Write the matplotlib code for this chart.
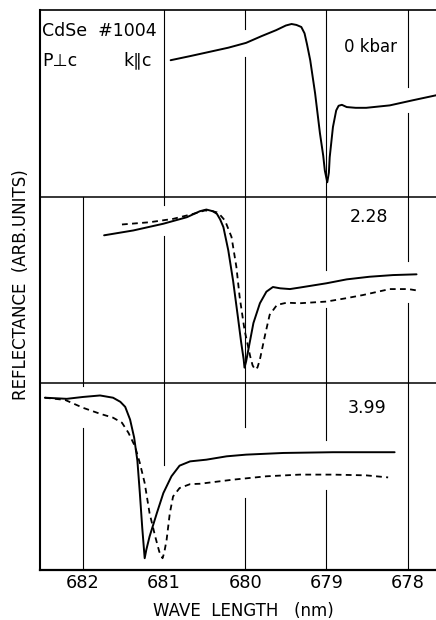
import numpy as np
import matplotlib
matplotlib.use("Agg")
import matplotlib.pyplot as plt

# reflectance spectra of CdSe #1004, one panel per pressure (arb. units, 0-1 inside each panel)
pressures = ["0 kbar", "2.28", "3.99"]

wl_0_solid = [680.92, 680.68, 680.46, 680.21, 679.99, 679.80, 679.62, 679.50, 679.43,
              679.37, 679.31, 679.27, 679.24, 679.20, 679.14, 679.08, 679.04, 679.02,
              678.99, 678.97, 678.96, 678.92, 678.88, 678.85, 678.81, 678.75, 678.64,
              678.51, 678.22, 677.94, 677.65, 677.55]
r_0_solid = [0.731, 0.753, 0.774, 0.798, 0.824, 0.860, 0.892, 0.917, 0.925,
             0.920, 0.909, 0.875, 0.817, 0.731, 0.554, 0.339, 0.220, 0.140,
             0.077, 0.129, 0.211, 0.373, 0.462, 0.487, 0.492, 0.480, 0.476,
             0.476, 0.489, 0.516, 0.543, 0.556]

wl_228_solid = [681.74, 681.38, 681.01, 680.72, 680.56, 680.48, 680.40, 680.35, 680.31,
                680.27, 680.21, 680.15, 680.09, 680.05, 680.02, 680.01, 679.99, 679.96,
                679.90, 679.82, 679.74, 679.66, 679.57, 679.45, 679.33, 679.00, 678.75,
                678.47, 678.18, 677.89]
r_228_solid = [0.793, 0.819, 0.855, 0.890, 0.922, 0.931, 0.922, 0.908, 0.878,
               0.837, 0.713, 0.548, 0.351, 0.216, 0.128, 0.084, 0.117, 0.186,
               0.323, 0.429, 0.491, 0.516, 0.509, 0.505, 0.513, 0.536, 0.557,
               0.571, 0.580, 0.584]

wl_228_dash = [681.52, 681.18, 680.89, 680.64, 680.50, 680.42, 680.35, 680.31, 680.25,
               680.17, 680.11, 680.07, 680.01, 679.94, 679.91, 679.88, 679.85, 679.82,
               679.76, 679.70, 679.61, 679.49, 679.33, 679.00, 678.77, 678.55, 678.22,
               677.99, 677.85]
r_228_dash = [0.851, 0.863, 0.881, 0.908, 0.926, 0.924, 0.916, 0.902, 0.872,
              0.784, 0.624, 0.464, 0.287, 0.145, 0.096, 0.074, 0.085, 0.128,
              0.252, 0.367, 0.420, 0.432, 0.429, 0.438, 0.455, 0.473, 0.505,
              0.505, 0.495]

wl_399_solid = [682.47, 682.20, 682.00, 681.79, 681.63, 681.54, 681.48, 681.42, 681.37,
                681.33, 681.30, 681.27, 681.24, 681.22, 681.18, 681.09, 681.01, 680.91,
                680.81, 680.68, 680.48, 680.23, 679.99, 679.53, 678.92, 678.16]
r_399_solid = [0.923, 0.917, 0.927, 0.935, 0.923, 0.901, 0.874, 0.806, 0.710,
               0.586, 0.414, 0.226, 0.063, 0.108, 0.179, 0.305, 0.412, 0.502,
               0.559, 0.582, 0.591, 0.609, 0.618, 0.627, 0.631, 0.631]

wl_399_dash = [682.47, 682.22, 682.00, 681.79, 681.63, 681.52, 681.44, 681.36, 681.30,
               681.24, 681.18, 681.11, 681.06, 681.02, 681.00, 680.97, 680.93, 680.89,
               680.81, 680.68, 680.56, 680.15, 679.74, 679.33, 678.92, 678.51, 678.24]
r_399_dash = [0.923, 0.911, 0.869, 0.837, 0.816, 0.789, 0.735, 0.663, 0.574,
              0.466, 0.305, 0.179, 0.098, 0.063, 0.091, 0.161, 0.305, 0.394,
              0.439, 0.460, 0.462, 0.484, 0.502, 0.511, 0.511, 0.507, 0.496]

xticks = [682, 681, 680, 679, 678]

# vertical rulings, broken where the traces run across them (panel-local fractions)
grid_top = {681: [(0, 1)], 680: [(0, 0.748), (0.898, 1)], 679: [(0, 1)],
            678: [(0, 0.448), (0.587, 1)]}
grid_mid = {682: [(0, 1)], 681: [(0, 0.789), (0.955, 1)], 680: [(0, 1)],
            679: [(0, 0.404), (0.607, 1)], 678: [(0, 0.43), (0.655, 1)]}
grid_bot = {682: [(0, 0.761), (0.986, 1)], 681: [(0.5625, 1)], 680: [(0, 0.386), (0.766, 1)],
            679: [(0, 0.429), (0.696, 1)], 678: [(0, 1)]}

W, H = 436, 620
fig = plt.figure(figsize=(W / 100, H / 100), dpi=100)
ax = fig.add_axes([40 / W, 1 - 570 / H, 1 - 40 / W + 0.01, 560 / H])
ax.set_xlim(682.53, 677.65 - 0.01 * W / 81.2)
ax.set_ylim(0, 3)

for offset, grid in [(2, grid_top), (1, grid_mid), (0, grid_bot)]:
    for wl, spans in grid.items():
        for lo, hi in spans:
            ax.plot([wl, wl], [offset + lo, offset + hi], color="black", lw=0.8)
for yb in (1, 2):
    ax.axhline(yb, color="black", lw=1.1)

style = dict(color="black", lw=1.4, solid_capstyle="round")
dash = (0, (3.2, 2.4))
ax.plot(wl_0_solid, np.array(r_0_solid) + 2, **style)
ax.plot(wl_228_solid, np.array(r_228_solid) + 1, **style)
ax.plot(wl_228_dash, np.array(r_228_dash) + 1, ls=dash, color="black", lw=1.3)
ax.plot(wl_399_solid, r_399_solid, **style)
ax.plot(wl_399_dash, r_399_dash, ls=dash, color="black", lw=1.3)

ax.set_xticks(xticks)
ax.set_xticklabels([str(t) for t in xticks], fontsize=12.8)
ax.tick_params(axis="x", length=0, pad=3)
ax.set_yticks([])
ax.spines["right"].set_visible(False)
ax.spines["left"].set_linewidth(1.5)
ax.spines["bottom"].set_linewidth(1.6)
ax.spines["top"].set_linewidth(1.2)

def px(x, y):
    return x / W, 1 - y / H

fig.text(*px(42, 31.5), "CdSe  #1004", fontsize=12.5, ha="left", va="center")
fig.text(*px(42, 60.5), "P\u22a5c", fontsize=12.5, ha="left", va="center")
fig.text(*px(123, 60.5), "k\u2225c", fontsize=12.5, ha="left", va="center")
fig.text(*px(370, 47.5), pressures[0], fontsize=12, ha="center", va="center")
fig.text(*px(369, 216.7), pressures[1], fontsize=12.5, ha="center", va="center")
fig.text(*px(366.7, 408), pressures[2], fontsize=12.5, ha="center", va="center")

fig.text(*px(243, 611), "WAVE  LENGTH   (nm)", fontsize=12, ha="center", va="center")
fig.text(*px(21, 285), "REFLECTANCE  (ARB.UNITS)", fontsize=12, rotation=90,
         ha="center", va="center")

fig.savefig("out.png", dpi=100)
